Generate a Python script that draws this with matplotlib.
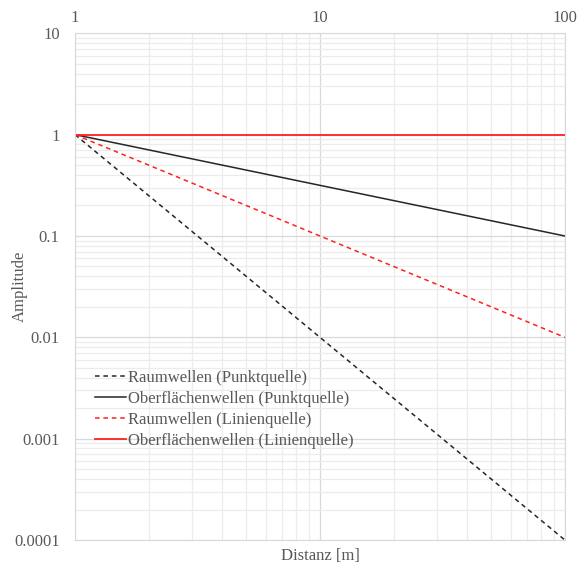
import numpy as np
import matplotlib.pyplot as plt
from matplotlib.ticker import LogLocator, NullFormatter, FixedLocator, FixedFormatter

# Distanz [m] and amplitudes (straight lines in log-log)
dist = [1, 10, 100]
raum_punkt = [1, 0.01, 0.0001]
ober_punkt = [1, 0.316, 0.1]
raum_linie = [1, 0.1, 0.01]
ober_linie = [1, 1, 1]

labels = ["Raumwellen (Punktquelle)", "Oberflächenwellen (Punktquelle)",
          "Raumwellen (Linienquelle)", "Oberflächenwellen (Linienquelle)"]

yTicks = [0.0001, 0.001, 0.01, 0.1, 1, 10]
yLabs = ["0.0001", "0.001", "0.01", "0.1", "1", "10"]
xTicks = [1, 10, 100]
xLabs = ["1", "10", "100"]

plt.rcParams['font.family'] = ['Liberation Serif', 'DejaVu Serif']
tCol = "#595959"
fs = 12

fig = plt.figure(figsize=(5.77, 5.70), dpi=100)
Ax = fig.add_axes([0.130, 0.0526, 0.849, 0.889])

Ax.plot(dist, raum_punkt, color="#262626", ls=(0, (3, 2.5)), lw=1.1, label=labels[0])
Ax.plot(dist, ober_punkt, color="#262626", ls="-", lw=1.1, label=labels[1])
Ax.plot(dist, raum_linie, color="#ff2020", ls=(0, (3, 2.5)), lw=1.1, label=labels[2])
Ax.plot(dist, ober_linie, color="#ff2020", ls="-", lw=1.3, label=labels[3])

Ax.set_xscale("log")
Ax.set_yscale("log")
Ax.set_xlim(1, 100)
Ax.set_ylim(0.0001, 10)

Ax.xaxis.set_major_locator(FixedLocator(xTicks))
Ax.xaxis.set_major_formatter(FixedFormatter(xLabs))
Ax.yaxis.set_major_locator(FixedLocator(yTicks))
Ax.yaxis.set_major_formatter(FixedFormatter(yLabs))
Ax.xaxis.set_minor_locator(LogLocator(base=10, subs=np.arange(2, 10)))
Ax.yaxis.set_minor_locator(LogLocator(base=10, subs=np.arange(2, 10)))
Ax.xaxis.set_minor_formatter(NullFormatter())
Ax.yaxis.set_minor_formatter(NullFormatter())

Ax.xaxis.tick_top()
Ax.tick_params(which="both", length=0, labelsize=fs, colors=tCol)
Ax.tick_params(axis="y", pad=11)
Ax.tick_params(axis="x", pad=5)

Ax.grid(which="major", color="#d9d9d9", lw=0.9)
Ax.grid(which="minor", color="#ececec", lw=0.9)
Ax.set_axisbelow(True)
for s in Ax.spines.values():
	s.set_color("#d9d9d9")

Ax.set_xlabel("Distanz [m]", color=tCol, fontsize=fs, labelpad=6)
Ax.xaxis.set_label_position("bottom")
Ax.set_ylabel("Amplitude", color=tCol, fontsize=fs)
Ax.yaxis.set_label_coords(-0.097, 0.5)

leg = Ax.legend(loc="lower left", bbox_to_anchor=(0.04, 0.179), frameon=False,
	fontsize=fs, handlelength=1.9, handletextpad=0.1, labelspacing=0.3,
	borderpad=0, borderaxespad=0)
for t in leg.get_texts():
	t.set_color(tCol)

plt.savefig("out.png", dpi=100)
